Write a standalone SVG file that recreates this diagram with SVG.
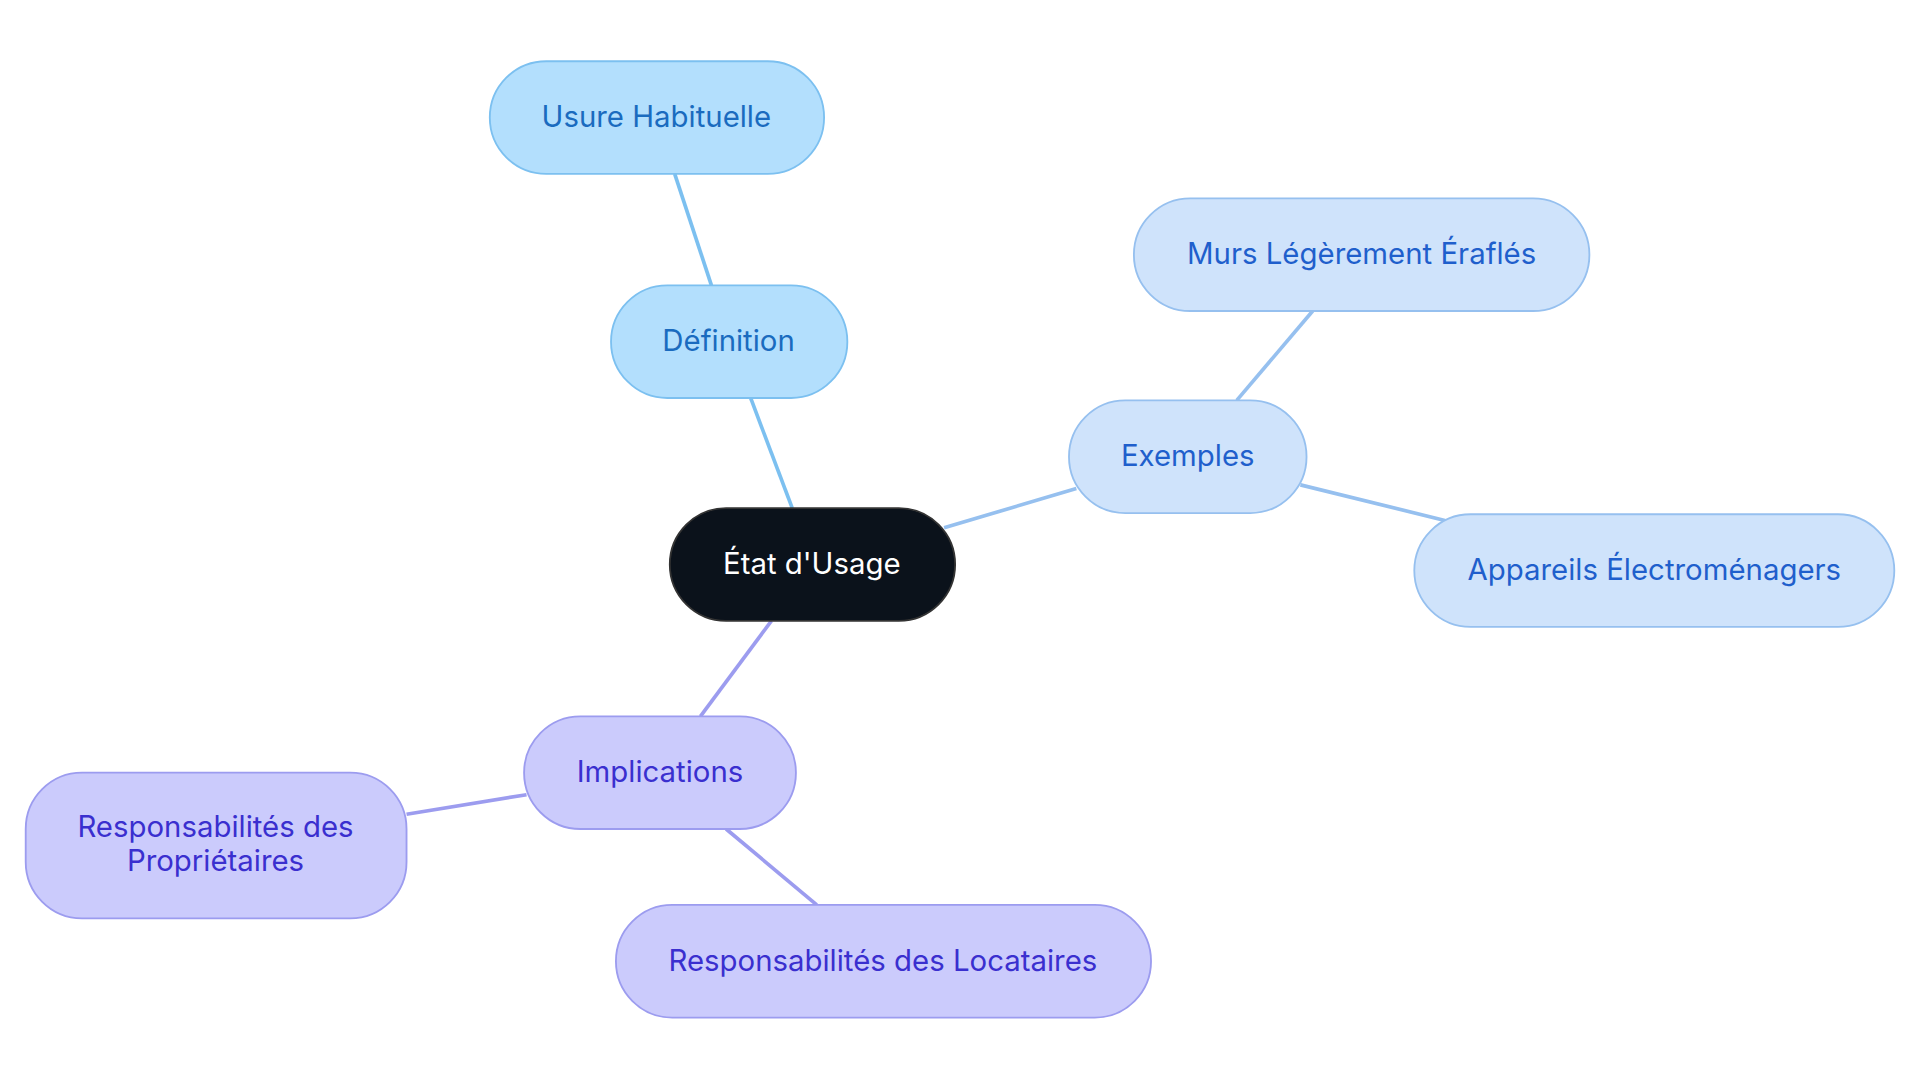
<svg xmlns="http://www.w3.org/2000/svg" width="1920" height="1083" viewBox="0 0 1920 1083">
<style>
text{font-family:Inter,"Noto Sans",sans-serif;font-size:24px;text-anchor:middle;dominant-baseline:central}
.c1 rect{fill:#b3dffd;stroke:#7cc0f0;stroke-width:1.5}.c1 text{fill:#1a6bbf}
.c2 rect{fill:#cfe3fb;stroke:#96c0ef;stroke-width:1.5}.c2 text{fill:#1f5fcc}
.c3 rect{fill:#cbcbfc;stroke:#9c9cef;stroke-width:1.5}.c3 text{fill:#3a2fcf}
.e1{stroke:#7cc0f0}.e2{stroke:#96c0ef}.e3{stroke:#9c9cef}
line{stroke-width:3}
</style>
<rect width="1920" height="1083" fill="#fff"/>
<g transform="scale(1.2245)">
<g id="connectors">
<line class="e1" x1="647" y1="415" x2="613" y2="325"/>
<line class="e1" x1="581" y1="233" x2="551" y2="142"/>
<line class="e2" x1="771" y1="431" x2="879" y2="399"/>
<line class="e2" x1="1010" y1="327" x2="1072" y2="254"/>
<line class="e2" x1="1062" y1="396" x2="1180" y2="425"/>
<line class="e3" x1="630" y1="507" x2="572" y2="585"/>
<line class="e3" x1="430" y1="649" x2="332" y2="665"/>
<line class="e3" x1="593" y1="677" x2="667" y2="739"/>
</g>
<g id="center"><rect x="547" y="415" width="233" height="92" rx="46" fill="#0b121b" stroke="#333" stroke-width="1.5"/><text x="663" y="460" fill="#fff">État d'Usage</text></g>
<g id="definition" class="c1"><rect x="499" y="233" width="193" height="92" rx="46"/><text x="595" y="278">Définition</text></g>
<g id="usure" class="c1"><rect x="400" y="50" width="273" height="92" rx="46"/><text x="536" y="95">Usure Habituelle</text></g>
<g id="exemples" class="c2"><rect x="873" y="327" width="194" height="92" rx="46"/><text x="970" y="372">Exemples</text></g>
<g id="murs" class="c2"><rect x="926" y="162" width="372" height="92" rx="46"/><text x="1112" y="207">Murs Légèrement Éraflés</text></g>
<g id="appareils" class="c2"><rect x="1155" y="420" width="392" height="92" rx="46"/><text x="1351" y="465">Appareils Électroménagers</text></g>
<g id="implications" class="c3"><rect x="428" y="585" width="222" height="92" rx="46"/><text x="539" y="630">Implications</text></g>
<g id="proprietaires" class="c3"><rect x="21" y="631" width="311" height="119" rx="46"/><text x="176" y="675">Responsabilités des</text><text x="176" y="703">Propriétaires</text></g>
<g id="locataires" class="c3"><rect x="503" y="739" width="437" height="92" rx="46"/><text x="721" y="784">Responsabilités des Locataires</text></g>
</g>
</svg>
